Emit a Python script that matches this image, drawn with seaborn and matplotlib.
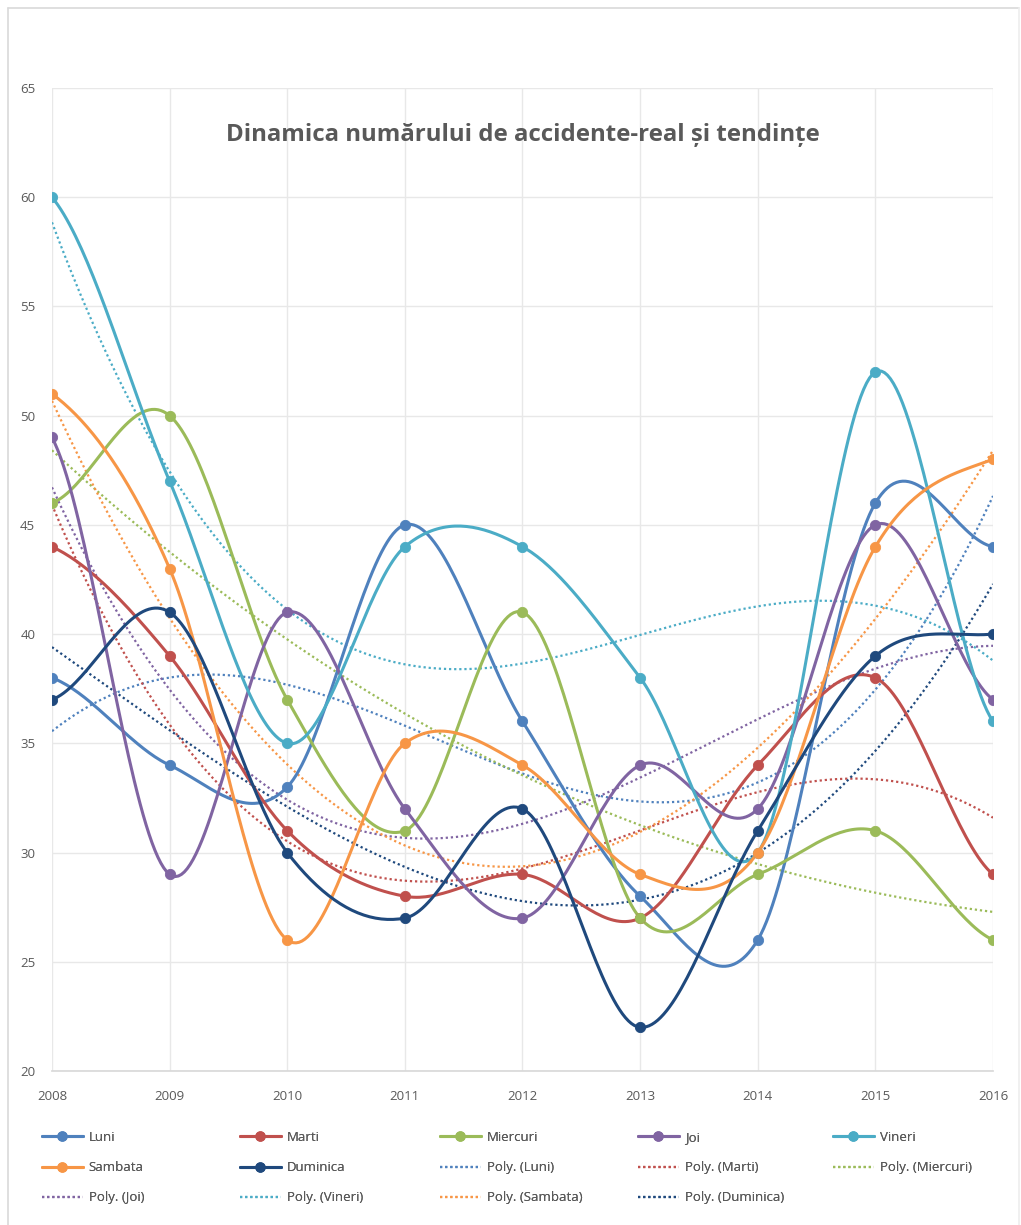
import numpy as np
import pandas as pd
import matplotlib
matplotlib.use("Agg")
import matplotlib.pyplot as plt
from matplotlib.lines import Line2D
import seaborn as sns

# date
years = [2008, 2009, 2010, 2011, 2012, 2013, 2014, 2015, 2016]
luni = [38, 34, 33, 45, 36, 28, 26, 46, 44]
marti = [44, 39, 31, 28, 29, 27, 34, 38, 29]
miercuri = [46, 50, 37, 31, 41, 27, 29, 31, 26]
joi = [49, 29, 41, 32, 27, 34, 32, 45, 37]
vineri = [60, 47, 35, 44, 44, 38, 30, 52, 36]
sambata = [51, 43, 26, 35, 34, 29, 30, 44, 48]
duminica = [37, 41, 30, 27, 32, 22, 31, 39, 40]

names = ["Luni", "Marti", "Miercuri", "Joi", "Vineri", "Sambata", "Duminica"]
series = [luni, marti, miercuri, joi, vineri, sambata, duminica]
colors = ["#4F81BD", "#C0504D", "#9BBB59", "#8064A2", "#4BACC6", "#F79646", "#1F497D"]


def smooth(y, n=40):
    # linie netezita ca in Excel (Catmull-Rom)
    y = np.asarray(y, dtype=float)
    x = np.arange(len(y), dtype=float)
    xs, ys = [], []
    for i in range(len(y) - 1):
        p0 = y[i - 1] if i > 0 else y[i]
        p1, p2 = y[i], y[i + 1]
        p3 = y[i + 2] if i + 2 < len(y) else y[i + 1]
        t = np.linspace(0, 1, n, endpoint=(i == len(y) - 2))
        c1 = p1 + (p2 - p0) / 6
        c2 = p2 - (p3 - p1) / 6
        b = (1 - t) ** 3 * p1 + 3 * (1 - t) ** 2 * t * c1 + 3 * (1 - t) * t ** 2 * c2 + t ** 3 * p2
        xs.append(x[i] + t)
        ys.append(b)
    return np.concatenate(xs), np.concatenate(ys)


sns.set_theme(style="white")
plt.rcParams["font.family"] = ["Open Sans", "DejaVu Sans"]

fig = plt.figure(figsize=(10.21, 12.25), dpi=100)
ax = fig.add_axes([0.0509, 0.1257, 0.9217, 0.8025])

xi = np.arange(len(years))
dots = (0, (1, 1.3))

# tendinte polinomiale (ordinul 3)
for name, y, c in zip(names, series, colors):
    coef = np.polyfit(xi, y, 3)
    xt = np.linspace(0, len(years) - 1, 200)
    sns.lineplot(x=xt, y=np.polyval(coef, xt), ax=ax, color=c, lw=1.6,
                 linestyle=dots, zorder=2)

for name, y, c in zip(names, series, colors):
    xs, ys = smooth(y)
    sns.lineplot(x=xs, y=ys, ax=ax, color=c, lw=2.2, zorder=3)
    sns.scatterplot(x=xi, y=y, ax=ax, color=c, s=55, edgecolor=c, zorder=4)

ax.set_xlim(0, len(years) - 1)
ax.set_ylim(20, 65)
ax.set_yticks(range(20, 66, 5))
ax.set_xticks(xi)
ax.set_xticklabels([str(v) for v in years])
ax.grid(True, color="#E8E8E8", lw=1)
ax.set_axisbelow(True)
for s in ["top", "right", "left"]:
    ax.spines[s].set_visible(False)
ax.spines["bottom"].set_color("#D9D9D9")
ax.tick_params(axis="both", labelsize=9.5, labelcolor="#595959", length=0)
ax.tick_params(axis="x", pad=14)
ax.tick_params(axis="y", pad=12)
ax.set_xlabel("")
ax.set_ylabel("")

ax.text(0.5, 0.952, "Dinamica numărului de accidente-real și tendințe",
        transform=ax.transAxes, ha="center", va="center",
        fontsize=17.3, fontweight="bold", color="#595959")

# legenda: 5 coloane, completate pe randuri
handles = []
labels = []
for name, c in zip(names, colors):
    handles.append(Line2D([], [], color=c, lw=2.2, marker="o", markersize=6.5))
    labels.append(name)
for name, c in zip(names, colors):
    handles.append(Line2D([], [], color=c, lw=1.6, linestyle=dots))
    labels.append("Poly. (" + name + ")")

col_x = [42, 240, 440, 638, 833]
for col, x0 in enumerate(col_x):
    idx = [i for i in range(col, len(handles), 5)]
    leg = fig.legend([handles[i] for i in idx], [labels[i] for i in idx],
                     loc="upper left", bbox_to_anchor=(x0 / 1021, 1 - 1131 / 1225),
                     ncol=1, frameon=False, fontsize=9.5, labelcolor="#595959",
                     handlelength=3.1, handletextpad=0.45, labelspacing=1.3,
                     borderpad=0, borderaxespad=0)
    fig.add_artist(leg)

# chenarul graficului
fig.add_artist(Line2D([8 / 1021, 8 / 1021], [0, 1 - 8 / 1225],
                      transform=fig.transFigure, color="#D9D9D9", lw=1.2))
fig.add_artist(Line2D([8 / 1021, 1019 / 1021], [1 - 8 / 1225, 1 - 8 / 1225],
                      transform=fig.transFigure, color="#D9D9D9", lw=1.2))
fig.add_artist(Line2D([1019 / 1021, 1019 / 1021], [0, 1 - 8 / 1225],
                      transform=fig.transFigure, color="#EEEEEE", lw=1.2))

fig.savefig("out.png", dpi=100, facecolor="white")
